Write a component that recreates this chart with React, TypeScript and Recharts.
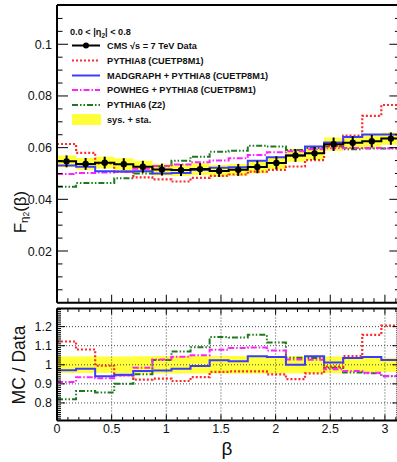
import React from 'react';
import {
  ComposedChart, Line, Area, Scatter, ErrorBar, XAxis, YAxis, ReferenceLine, Legend,
} from 'recharts';

// ---------------- data ----------------
const binEdges = [0, 0.1745, 0.3491, 0.5236, 0.6981, 0.8727, 1.0472, 1.2217, 1.3963, 1.5708,
  1.7453, 1.9199, 2.0944, 2.2689, 2.4435, 2.618, 2.7925, 2.9671, 3.1416];
const binCenters = [0.0873, 0.2618, 0.4363, 0.6109, 0.7854, 0.9599, 1.1345, 1.309, 1.4835, 1.6581,
  1.8326, 2.0071, 2.1817, 2.3562, 2.5307, 2.7053, 2.8798, 3.0543];

const cmsData = [0.0547, 0.0537, 0.0542, 0.0536, 0.0526, 0.0515, 0.0513, 0.0517, 0.051, 0.0514,
  0.0525, 0.0541, 0.057, 0.0578, 0.0613, 0.0619, 0.0625, 0.0635];
const cmsUnc = [0.0023, 0.0023, 0.0023, 0.0023, 0.0023, 0.0023, 0.0023, 0.0023, 0.0023, 0.0023,
  0.0024, 0.0025, 0.0025, 0.0025, 0.0026, 0.0025, 0.0024, 0.0024];

const pythia8 = [0.0614, 0.058, 0.0539, 0.0507, 0.0485, 0.0477, 0.0469, 0.0483, 0.0491, 0.0496,
  0.0507, 0.0514, 0.0527, 0.0552, 0.0607, 0.0647, 0.0723, 0.0765];
const madgraph = [0.0531, 0.0526, 0.0509, 0.0508, 0.0509, 0.05, 0.0502, 0.0513, 0.0522, 0.0524,
  0.0549, 0.0563, 0.057, 0.0604, 0.062, 0.0641, 0.0651, 0.0651];
const powheg = [0.0498, 0.0502, 0.0504, 0.0507, 0.0518, 0.0529, 0.0535, 0.0543, 0.055, 0.0559,
  0.0572, 0.0582, 0.0586, 0.0594, 0.0598, 0.0599, 0.0599, 0.0598];
const pythia6 = [0.0449, 0.0463, 0.0463, 0.0482, 0.05, 0.0528, 0.0549, 0.0565, 0.0584, 0.0588,
  0.0607, 0.0604, 0.0591, 0.0599, 0.0604, 0.0594, 0.0597, 0.0597];

const ratioPythia8 = [1.122, 1.08, 0.995, 0.945, 0.922, 0.927, 0.915, 0.935, 0.963, 0.965,
  0.965, 0.95, 0.925, 0.955, 0.99, 1.045, 1.157, 1.205];
const ratioMadgraph = [0.971, 0.979, 0.94, 0.948, 0.968, 0.97, 0.979, 0.993, 1.024, 1.019,
  1.045, 1.041, 1.0, 1.045, 1.012, 1.036, 1.041, 1.025];
const ratioPowheg = [0.91, 0.935, 0.93, 0.945, 0.985, 1.028, 1.042, 1.05, 1.079, 1.088,
  1.09, 1.075, 1.028, 1.027, 0.976, 0.967, 0.958, 0.941];
const ratioPythia6 = [0.82, 0.862, 0.855, 0.9, 0.95, 1.025, 1.07, 1.092, 1.145, 1.143,
  1.157, 1.117, 1.037, 1.036, 0.985, 0.96, 0.955, 0.94];
const ratioUnc = [0.043, 0.043, 0.043, 0.044, 0.045, 0.046, 0.046, 0.046, 0.046, 0.046,
  0.046, 0.046, 0.045, 0.045, 0.044, 0.04, 0.038, 0.037];

const topMajorTicks = [0.02, 0.04, 0.06, 0.08, 0.1];
const topMajorLabels = ['0.02', '0.04', '0.06', '0.08', '0.1'];
const ratioMajorTicks = [0.8, 0.9, 1.0, 1.1, 1.2];
const ratioMajorLabels = ['0.8', '0.9', '1', '1.1', '1.2'];
const xMajorTicks = [0, 0.5, 1, 1.5, 2, 2.5, 3];
const xMajorLabels = ['0', '0.5', '1', '1.5', '2', '2.5', '3'];

const legendTitle = ['0.0 < |η', '2', '| < 0.8'];
const legendLabels = [
  'CMS  √s = 7 TeV Data',
  'PYTHIA8 (CUETP8M1)',
  'MADGRAPH + PYTHIA8 (CUETP8M1)',
  'POWHEG + PYTHIA8 (CUETP8M1)',
  'PYTHIA6 (Z2)',
  'sys. + sta.',
];

// ---------------- style ----------------
const FONT = '"Liberation Sans", Arial, Helvetica, sans-serif';
const RED = '#ff2a2a';
const BLUE = '#3c3cff';
const MAGENTA = '#ff22ff';
const GREEN = '#1f7a1f';
const YELLOW = '#ffff3a';
const DASH_RED = '2 2';
const DASH_MAG = '6 2 1.5 2';
const DASH_GRN = '6 2 1.5 2 1.5 2';

const PL = 57;
const PR = 400.4;
const CHART_W = 401;
const TOP_Y0 = 5;
const TOP_Y1 = 302.7;
const R_Y0 = 308.5;
const R_Y1 = 420.5;
const TOP_DOMAIN: [number, number] = [0, 0.1152];
const R_DOMAIN: [number, number] = [0.708, 1.295];
const X_DOMAIN: [number, number] = [0, Math.PI];

const isIn = (arr: number[], v: number) => arr.findIndex((t) => Math.abs(t - v) < 1e-7);

const topYTicks: number[] = [];
for (let i = 1; i <= 23; i++) topYTicks.push(+(i * 0.005).toFixed(3));
const ratioYTicks: number[] = [];
for (let i = 71; i <= 129; i++) ratioYTicks.push(+(i * 0.01).toFixed(2));
const xTicks: number[] = [];
for (let i = 0; i <= 31; i++) xTicks.push(+(i * 0.1).toFixed(1));

// ---------------- tables ----------------
const N = cmsData.length;
const topRows = binEdges.map((x, i) => {
  const k = Math.min(i, N - 1);
  return {
    x,
    data: cmsData[k],
    p8: pythia8[k],
    mg: madgraph[k],
    pw: powheg[k],
    p6: pythia6[k],
    band: [cmsData[k] - cmsUnc[k], cmsData[k] + cmsUnc[k]],
  };
});
const pointRows = binCenters.map((x, i) => ({ x, y: cmsData[i], err: cmsUnc[i] }));
const ratioRows = binEdges.map((x, i) => {
  const k = Math.min(i, N - 1);
  return {
    x,
    p8: ratioPythia8[k],
    mg: ratioMadgraph[k],
    pw: ratioPowheg[k],
    p6: ratioPythia6[k],
    band: [1 - ratioUnc[k], 1 + ratioUnc[k]],
  };
});

// ---------------- ticks ----------------
const TopYTick = (props: any) => {
  const { y, payload } = props;
  const idx = isIn(topMajorTicks, payload.value);
  const len = idx >= 0 ? 11 : 5.5;
  return (
    <g>
      <line x1={PL} x2={PL + len} y1={y} y2={y} stroke="#000" strokeWidth={1} />
      <line x1={PR} x2={PR - len} y1={y} y2={y} stroke="#000" strokeWidth={1} />
      {idx >= 0 && (
        <text x={52} y={y} dy="0.36em" textAnchor="end" fontSize={12.5} fontFamily={FONT} fill="#111">
          {topMajorLabels[idx]}
        </text>
      )}
    </g>
  );
};

const TopXTick = (props: any) => {
  const { x, payload } = props;
  const major = isIn(xMajorTicks, payload.value) >= 0;
  const len = major ? 8 : 4.5;
  return <line x1={x} x2={x} y1={TOP_Y1} y2={TOP_Y1 - len} stroke="#000" strokeWidth={1} />;
};

const RatioYTick = (props: any) => {
  const { y, payload } = props;
  const idx = isIn(ratioMajorTicks, payload.value);
  const len = idx >= 0 ? 8 : 4;
  return (
    <g>
      <line x1={PL} x2={PL + len} y1={y} y2={y} stroke="#000" strokeWidth={1} />
      <line x1={PR} x2={PR - len} y1={y} y2={y} stroke="#000" strokeWidth={1} />
      {idx >= 0 && (
        <text x={52} y={y} dy="0.36em" textAnchor="end" fontSize={12.5} fontFamily={FONT} fill="#111">
          {ratioMajorLabels[idx]}
        </text>
      )}
    </g>
  );
};

const RatioXTick = (props: any) => {
  const { x, payload } = props;
  const idx = isIn(xMajorTicks, payload.value);
  const len = idx >= 0 ? 6 : 3.5;
  return (
    <g>
      <line x1={x} x2={x} y1={R_Y1} y2={R_Y1 - len} stroke="#000" strokeWidth={1} />
      <line x1={x} x2={x} y1={R_Y0} y2={R_Y0 + len} stroke="#000" strokeWidth={1} />
      {idx >= 0 && (
        <text x={x} y={433} textAnchor="middle" fontSize={12.5} fontFamily={FONT} fill="#111">
          {xMajorLabels[idx]}
        </text>
      )}
    </g>
  );
};

// ---------------- labels ----------------
const FLabel = () => (
  <text
    x={20}
    y={212}
    transform="rotate(-90, 20, 212)"
    textAnchor="middle"
    dominantBaseline="central"
    fontSize={17}
    fontFamily={FONT}
    fill="#111"
  >
    F
    <tspan fontSize={11.5} dy={4}>η</tspan>
    <tspan fontSize={8.5} dy={2}>2</tspan>
    <tspan fontSize={17} dy={-6}>(β)</tspan>
  </text>
);

const RatioLabel = () => (
  <text
    x={19}
    y={365}
    transform="rotate(-90, 19, 365)"
    textAnchor="middle"
    dominantBaseline="central"
    fontSize={17.5}
    fontFamily={FONT}
    fill="#111"
  >
    MC / Data
  </text>
);

const BetaLabel = () => (
  <text x={227} y={455} textAnchor="middle" fontSize={19} fontFamily={FONT} fill="#111">
    β
  </text>
);

// ---------------- legend ----------------
const LEG_X0 = 72;
const LEG_X1 = 100;
const LEG_TX = 107;
const legendRowsY = [45.5, 60.5, 75.5, 90, 105, 119.5];
const legendStyles = [
  { stroke: '#000', dash: undefined as string | undefined },
  { stroke: RED, dash: DASH_RED },
  { stroke: BLUE, dash: undefined },
  { stroke: MAGENTA, dash: DASH_MAG },
  { stroke: GREEN, dash: DASH_GRN },
];

const renderLegend = () => (
  <svg width={330} height={130} style={{ display: 'block', overflow: 'visible' }}>
    <text x={70} y={35} fontSize={9.2} fontWeight="bold" fontFamily={FONT} fill="#111">
      {legendTitle[0]}
      <tspan fontSize={6.5} dy={2.5}>{legendTitle[1]}</tspan>
      <tspan fontSize={9.2} dy={-2.5}>{legendTitle[2]}</tspan>
    </text>
    {legendLabels.map((lab, i) => {
      const y = legendRowsY[i];
      return (
        <g key={lab}>
          {i < 5 ? (
            <line
              x1={LEG_X0}
              x2={LEG_X1}
              y1={y}
              y2={y}
              stroke={legendStyles[i].stroke}
              strokeWidth={2}
              strokeDasharray={legendStyles[i].dash}
            />
          ) : (
            <rect x={LEG_X0} y={y - 5.5} width={LEG_X1 - LEG_X0 + 1} height={11} fill={YELLOW} />
          )}
          {i === 0 && <circle cx={(LEG_X0 + LEG_X1) / 2} cy={y} r={3} fill="#000" />}
          <text x={LEG_TX} y={y + 3.3} fontSize={9.2} fontWeight="bold" fontFamily={FONT} fill="#111">
            {lab}
          </text>
        </g>
      );
    })}
  </svg>
);

const DataDot = (props: any) => <circle cx={props.cx} cy={props.cy} r={3.2} fill="#000" />;

// ---------------- app ----------------
export default function App() {
  return (
    <div
      style={{
        position: 'absolute',
        left: 0,
        top: 0,
        width: 397,
        height: 462,
        overflow: 'hidden',
        background: '#fff',
      }}
    >
      {/* top panel */}
      <div style={{ position: 'absolute', left: 0, top: 0 }}>
        <ComposedChart
          width={CHART_W}
          height={TOP_Y1 + 8}
          data={topRows}
          margin={{ top: TOP_Y0, right: CHART_W - PR, left: 0, bottom: 0 }}
        >
          <XAxis
            dataKey="x"
            type="number"
            domain={X_DOMAIN}
            allowDataOverflow
            ticks={xTicks}
            interval={0}
            height={8}
            axisLine={false}
            tickLine={false}
            tick={<TopXTick />}
          />
          <YAxis
            type="number"
            domain={TOP_DOMAIN}
            allowDataOverflow
            ticks={topYTicks}
            interval={0}
            width={PL}
            axisLine={false}
            tickLine={false}
            tick={<TopYTick />}
            label={<FLabel />}
          />
          <Area
            dataKey="band"
            type="stepAfter"
            stroke="none"
            fill={YELLOW}
            fillOpacity={1}
            isAnimationActive={false}
            activeDot={false}
          />
          <Line dataKey="p6" type="stepAfter" stroke={GREEN} strokeWidth={2} strokeDasharray={DASH_GRN} dot={false} activeDot={false} isAnimationActive={false} />
          <Line dataKey="pw" type="stepAfter" stroke={MAGENTA} strokeWidth={2} strokeDasharray={DASH_MAG} dot={false} activeDot={false} isAnimationActive={false} />
          <Line dataKey="p8" type="stepAfter" stroke={RED} strokeWidth={2.2} strokeDasharray={DASH_RED} dot={false} activeDot={false} isAnimationActive={false} />
          <Line dataKey="mg" type="stepAfter" stroke={BLUE} strokeWidth={2} dot={false} activeDot={false} isAnimationActive={false} />
          <Line dataKey="data" type="stepAfter" stroke="#000" strokeWidth={2} dot={false} activeDot={false} isAnimationActive={false} />
          <Scatter data={pointRows} dataKey="y" shape={<DataDot />} isAnimationActive={false}>
            <ErrorBar dataKey="err" direction="y" width={0} stroke="#000" strokeWidth={2} />
          </Scatter>
          <ReferenceLine x={0} stroke="#000" strokeWidth={2} />
          <ReferenceLine y={TOP_DOMAIN[1]} stroke="#000" strokeWidth={2} />
          <ReferenceLine y={TOP_DOMAIN[0]} stroke="#000" strokeWidth={2} />
          <Legend
            layout="vertical"
            align="center"
            verticalAlign="middle"
            content={renderLegend}
            wrapperStyle={{ position: 'absolute', left: 0, top: 0, width: 330, height: 130 }}
          />
        </ComposedChart>
      </div>

      {/* ratio panel */}
      <div style={{ position: 'absolute', left: 0, top: 0 }}>
        <ComposedChart
          width={CHART_W}
          height={462}
          data={ratioRows}
          margin={{ top: R_Y0, right: CHART_W - PR, left: 0, bottom: 0 }}
        >
          <XAxis
            dataKey="x"
            type="number"
            domain={X_DOMAIN}
            allowDataOverflow
            ticks={xTicks}
            interval={0}
            height={462 - R_Y1}
            axisLine={false}
            tickLine={false}
            tick={<RatioXTick />}
            label={<BetaLabel />}
          />
          <YAxis
            type="number"
            domain={R_DOMAIN}
            allowDataOverflow
            ticks={ratioYTicks}
            interval={0}
            width={PL}
            axisLine={false}
            tickLine={false}
            tick={<RatioYTick />}
            label={<RatioLabel />}
          />
          <Area
            dataKey="band"
            type="stepAfter"
            stroke="none"
            fill={YELLOW}
            fillOpacity={1}
            isAnimationActive={false}
            activeDot={false}
          />
          {ratioMajorTicks.map((v) => (
            <ReferenceLine key={'h' + v} y={v} stroke="#444" strokeWidth={1} strokeDasharray="1 2" />
          ))}
          {xMajorTicks.slice(1).map((v) => (
            <ReferenceLine key={'v' + v} x={v} stroke="#444" strokeWidth={1} strokeDasharray="1 2" />
          ))}
          <Line dataKey="p6" type="stepAfter" stroke={GREEN} strokeWidth={2} strokeDasharray={DASH_GRN} dot={false} activeDot={false} isAnimationActive={false} />
          <Line dataKey="pw" type="stepAfter" stroke={MAGENTA} strokeWidth={2} strokeDasharray={DASH_MAG} dot={false} activeDot={false} isAnimationActive={false} />
          <Line dataKey="p8" type="stepAfter" stroke={RED} strokeWidth={2.2} strokeDasharray={DASH_RED} dot={false} activeDot={false} isAnimationActive={false} />
          <Line dataKey="mg" type="stepAfter" stroke={BLUE} strokeWidth={2} dot={false} activeDot={false} isAnimationActive={false} />
          <ReferenceLine x={0} stroke="#000" strokeWidth={2} />
          <ReferenceLine y={R_DOMAIN[1]} stroke="#000" strokeWidth={2} />
          <ReferenceLine y={R_DOMAIN[0]} stroke="#000" strokeWidth={2} />
        </ComposedChart>
      </div>
    </div>
  );
}
